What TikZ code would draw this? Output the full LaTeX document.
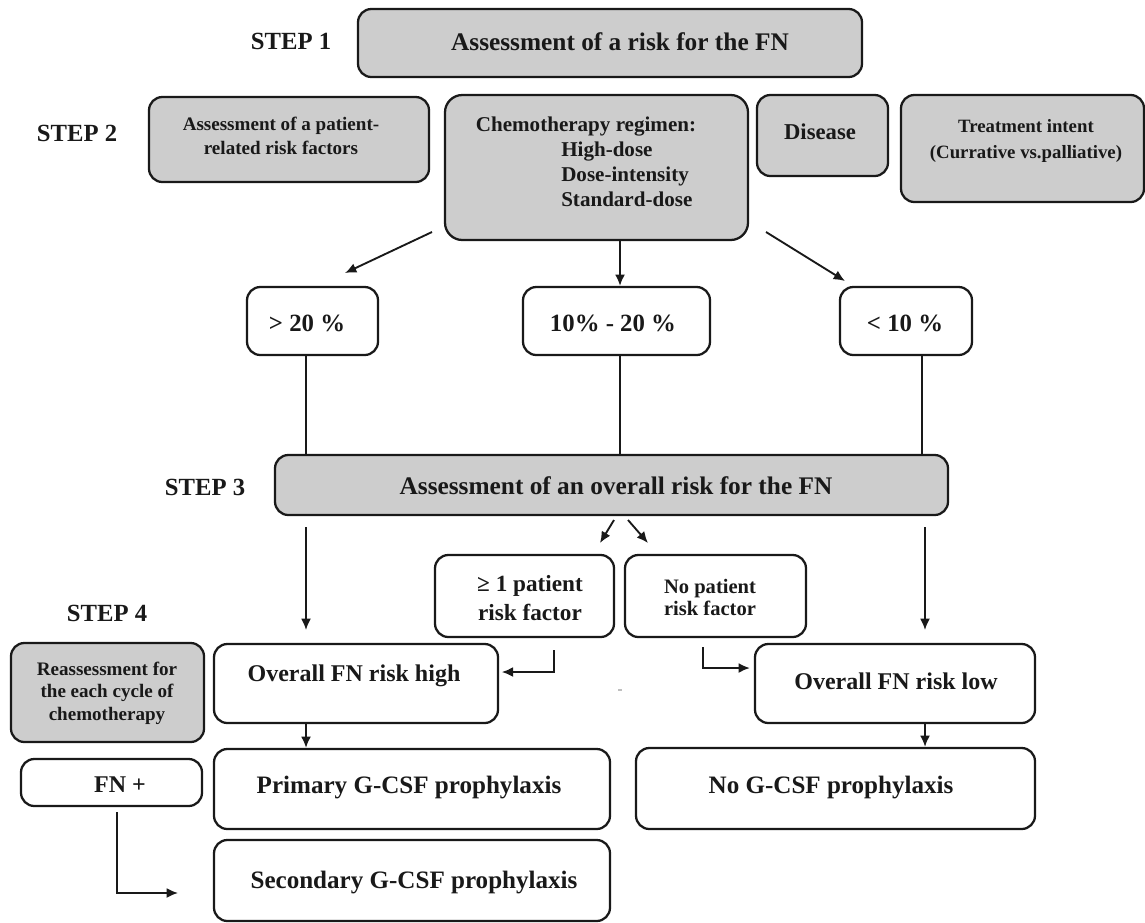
\documentclass[tikz,border=0pt]{standalone}
\usepackage{fontspec}
\setmainfont{Liberation Serif}
\usetikzlibrary{arrows.meta}
\definecolor{boxgray}{RGB}{205,205,205}
\definecolor{ink}{RGB}{25,25,25}
\newcommand\pxbox[6]{\node[#2, minimum width={(#5-#3)*0.75pt}, minimum height={(#6-#4)*0.75pt}, inner sep=0pt] (#1) at ({(#3+#5)/2},{(#4+#6)/2}) {};}
\begin{document}
\begin{tikzpicture}[x=0.75pt,y=-0.75pt,
  box/.style={draw=ink, line width=1.7pt, rounded corners=10pt},
  graybox/.style={box, fill=boxgray},
  whitebox/.style={box, fill=white},
  lbl/.style={inner sep=0pt, text=ink, align=center},
  one/.style={lbl, text height=0.68em, text depth=0pt, yshift=-3pt},
  fA/.style={font={\fontsize{19}{23}\selectfont\bfseries}},
  fS/.style={font={\fontsize{18.5}{22}\selectfont\bfseries}},
  fB/.style={font={\fontsize{18.6}{22}\selectfont\bfseries}},
  conn/.style={draw=ink, line width=1.4pt},
  arr/.style={conn, -{Latex[length=8.5pt,width=7.5pt]}},
]
\useasboundingbox (0,0) rectangle (1145,922);
\fill[white] (0,0) rectangle (1145,922);

% ---------- boxes ----------
\pxbox{b1}{graybox}{358}{9}{862}{77}
\pxbox{pat}{graybox}{149}{97}{429}{182}
\pxbox{chemo}{graybox, rounded corners=13pt}{445}{95}{748}{240}
\pxbox{dis}{graybox}{757}{95}{888}{176}
\pxbox{treat}{graybox}{901}{95}{1144}{202}
\pxbox{gt}{whitebox}{247}{287}{378}{355}
\pxbox{mid}{whitebox}{523}{287}{710}{355}
\pxbox{lt}{whitebox}{840}{287}{972}{355}
\pxbox{s3}{graybox}{275}{455}{948}{515}
\pxbox{ge}{whitebox}{435}{555}{614}{637}
\pxbox{nop}{whitebox}{625}{555}{806}{637}
\pxbox{reass}{graybox}{11}{643}{204}{742}
\pxbox{high}{whitebox}{214}{644}{498}{723}
\pxbox{low}{whitebox}{755}{644}{1035}{723}
\pxbox{fnp}{whitebox}{21}{759}{202}{806}
\pxbox{prim}{whitebox}{214}{749}{610}{829}
\pxbox{sec}{whitebox}{214}{840}{610}{921}
\pxbox{nog}{whitebox}{636}{748}{1035}{829}

% ---------- step labels ----------
\node[one, fS] (st1) at (291,41) {STEP 1};
\node[one, fS] (st2) at (77,133) {STEP 2};
\node[one, fS] (st3) at (205,487) {STEP 3};
\node[one, fS] (st4) at (107,613) {STEP 4};

% ---------- texts ----------
\node[one, fA] (t1) at (620,42) {Assessment of a risk for the FN};
\node[lbl, font={\fontsize{14.3}{18}\selectfont\bfseries}] (tpat) at (281,136) {Assessment of a patient-\\related risk factors};
\node[one, font={\fontsize{15.8}{19}\selectfont\bfseries}] (tch) at (586,123) {Chemotherapy regimen:};
\node[lbl, align=left, anchor=west, font={\fontsize{15.8}{18.75}\selectfont\bfseries}] (tchl) at (561,174) {High-dose\\Dose-intensity\\Standard-dose};
\node[one, font={\fontsize{17}{20}\selectfont\bfseries}] (tdis) at (820,131) {Disease};
\node[lbl, font={\fontsize{14.1}{19.5}\selectfont\bfseries}] (ttr) at (1026,141) {Treatment intent\\(Currative vs.palliative)};
\node[one, fB] (tgt) at (307,323) {> 20 \%};
\node[one, fB] (tmid) at (613,323) {10\% - 20 \%};
\node[one, fB] (tlt) at (905,323) {< 10 \%};
\node[one, fA] (ts3) at (616,486) {Assessment of an overall risk for the FN};
\node[lbl, font={\fontsize{17.4}{21.75}\selectfont\bfseries}] (tge) at (530,598) {≥ 1 patient\\risk factor};
\node[lbl, font={\fontsize{15.4}{16.5}\selectfont\bfseries}] (tnop) at (710,597) {No patient\\risk factor};
\node[lbl, font={\fontsize{14.3}{17}\selectfont\bfseries}] (treass) at (107,693) {Reassessment for\\the each cycle of\\chemotherapy};
\node[one, font={\fontsize{18}{22}\selectfont\bfseries}] (thigh) at (354,673) {Overall FN risk high};
\node[one, font={\fontsize{18}{22}\selectfont\bfseries}] (tlow) at (896,681) {Overall FN risk low};
\node[one, font={\fontsize{18}{22}\selectfont\bfseries}] (tfnp) at (120,784) {FN +};
\node[one, font={\fontsize{18.8}{22}\selectfont\bfseries}] (tprim) at (409,785) {Primary G-CSF prophylaxis};
\node[one, font={\fontsize{18.8}{22}\selectfont\bfseries}] (tsec) at (414,880) {Secondary G-CSF prophylaxis};
\node[one, font={\fontsize{18.8}{22}\selectfont\bfseries}] (tnog) at (831,785) {No G-CSF prophylaxis};

% ---------- connector end points ----------
\coordinate (c1a) at (432,232); \coordinate (c1b) at (345,273);
\coordinate (c3a) at (766,232); \coordinate (c3b) at (845,281);
\coordinate (s3l) at (306,527); \coordinate (s3la) at (306,630);
\coordinate (s3r) at (925,527); \coordinate (s3ra) at (925,630);
\coordinate (d1a) at (614,520); \coordinate (d1b) at (600,543);
\coordinate (d2a) at (628,520); \coordinate (d2b) at (648,543);
\coordinate (e1a) at (554,650); \coordinate (e1c) at (554,672);
\coordinate (e2a) at (703,647); \coordinate (e2c) at (703,668);
\coordinate (f1a) at (117,812); \coordinate (f1c) at (117,893); \coordinate (f1b) at (178,893);

% ---------- connectors ----------
\draw[arr] (chemo.south -| 620,0) -- (mid.north -| 620,0);
\draw[arr] (c1a) -- (c1b);
\draw[arr] (c3a) -- (c3b);
\draw[conn] (gt.south -| 306,0) -- (s3.north -| 306,0);
\draw[conn] (mid.south -| 620,0) -- (s3.north -| 620,0);
\draw[conn] (lt.south -| 922,0) -- (s3.north -| 922,0);
\draw[arr] (s3l) -- (s3la);
\draw[arr] (s3r) -- (s3ra);
\draw[arr] (d1a) -- (d1b);
\draw[arr] (d2a) -- (d2b);
\draw[arr] (e1a) -- (e1c) -- ([xshift=2pt]high.east |- e1c);
\draw[arr] (e2a) -- (e2c) -- ([xshift=-3pt]low.west |- e2c);
\draw[arr] (high.south -| 306,0) -- (prim.north -| 306,0);
\draw[arr] (low.south -| 925,0) -- (nog.north -| 925,0);
\draw[arr] (f1a) -- (f1c) -- (f1b);

% small stray mark
\fill[gray!50] (618,689) rectangle (622,691);
\end{tikzpicture}
\end{document}
